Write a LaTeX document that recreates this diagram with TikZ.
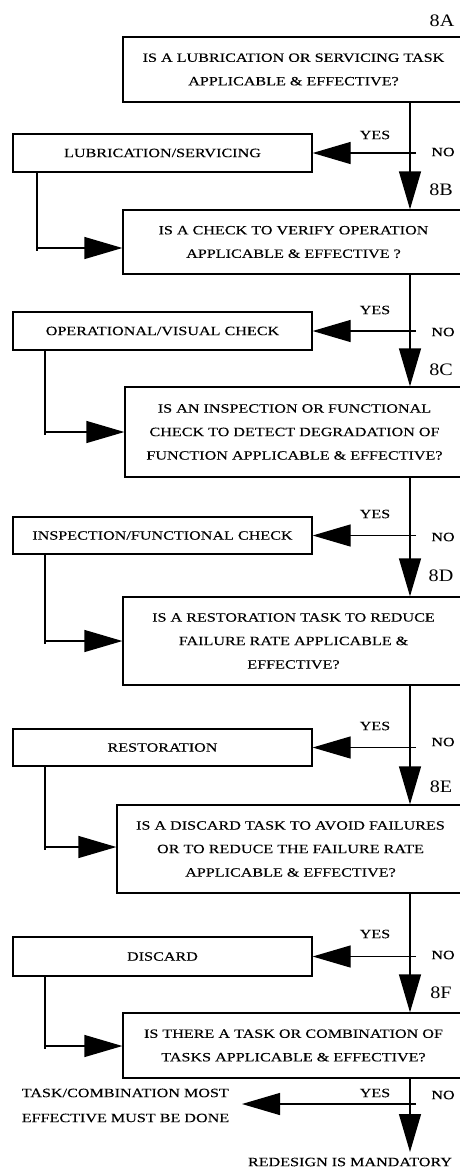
\documentclass[tikz,border=0pt]{standalone}
\usepackage{fontspec}
\setmainfont{Liberation Serif}[FakeStretch=1.27,FakeBold=0.2]
\newfontfamily\tagfont{Liberation Serif}[FakeStretch=1.15]
\usetikzlibrary{arrows.meta}
\begin{document}
\begin{tikzpicture}[x=1pt,y=-1pt,
  lw/.style={line width=1.3pt},
  qbox/.style={draw,lw,align=center,inner sep=0pt,font=\fontsize{12.7}{23.5}\selectfont},
  tbox/.style={draw,lw,align=center,inner sep=0pt,minimum width=299pt,minimum height=38pt,font=\fontsize{12.7}{14}\selectfont},
  lbl/.style={inner sep=0pt,font=\fontsize{12.7}{14}\selectfont},
  tag/.style={inner sep=0pt,font=\tagfont\fontsize{17.5}{20}\selectfont},
  arr/.style={lw,-{Triangle[length=38pt,width=22pt]}},
  con/.style={lw}
]
\useasboundingbox (0,0) rectangle (459,1168);
\coordinate (m) at (410,0);
\coordinate (s) at (416,0);

% question boxes
\node[qbox,minimum width=341pt,minimum height=65pt] (QA) at (293.5,69.5)
  {IS A LUBRICATION OR SERVICING TASK\\APPLICABLE \& EFFECTIVE?};
\node[qbox,minimum width=341pt,minimum height=64pt] (QB) at (293.5,242)
  {IS A CHECK TO VERIFY OPERATION\\APPLICABLE \& EFFECTIVE ?};
\node[qbox,minimum width=339pt,minimum height=90pt] (QC) at (294.5,432)
  {IS AN INSPECTION OR FUNCTIONAL\\CHECK TO DETECT DEGRADATION OF\\FUNCTION APPLICABLE \& EFFECTIVE?};
\node[qbox,minimum width=341pt,minimum height=88pt] (QD) at (293.5,641)
  {IS A RESTORATION TASK TO REDUCE\\FAILURE RATE APPLICABLE \&\\EFFECTIVE?};
\node[qbox,minimum width=347pt,minimum height=88pt] (QE) at (290.5,849)
  {IS A DISCARD TASK TO AVOID FAILURES\\OR TO REDUCE THE FAILURE RATE\\APPLICABLE \& EFFECTIVE?};
\node[qbox,minimum width=341pt,minimum height=65pt] (QF) at (293.5,1045.5)
  {IS THERE A TASK OR COMBINATION OF\\TASKS APPLICABLE \& EFFECTIVE?};

% task boxes
\node[tbox] (T1) at (162.5,153) {LUBRICATION/SERVICING};
\node[tbox] (T2) at (162.5,331) {OPERATIONAL/VISUAL CHECK};
\node[tbox,minimum height=37pt] (T3) at (162.5,535.5) {INSPECTION/FUNCTIONAL CHECK};
\node[tbox,minimum height=37pt] (T4) at (162.5,747.5) {RESTORATION};
\node[tbox,minimum height=39pt] (T5) at (162.5,956.5) {DISCARD};

% tags
\node[tag] (tA) at (442,21) {8A};
\node[tag] (tB) at (441,189.5) {8B};
\node[tag] (tC) at (441,370) {8C};
\node[tag] (tD) at (441,576) {8D};
\node[tag] (tE) at (441,787) {8E};
\node[tag] (tF) at (441,993) {8F};

% yes / no labels
\node[lbl] (y1) at (375,135) {YES};   \node[lbl] (n1) at (443,152) {NO};
\node[lbl] (y2) at (375,310) {YES};   \node[lbl] (n2) at (443,332) {NO};
\node[lbl] (y3) at (375,514) {YES};   \node[lbl] (n3) at (443,537) {NO};
\node[lbl] (y4) at (375,726) {YES};   \node[lbl] (n4) at (443,742) {NO};
\node[lbl] (y5) at (375,934) {YES};   \node[lbl] (n5) at (443,955) {NO};
\node[lbl] (y6) at (375,1093) {YES};  \node[lbl] (n6) at (443,1095) {NO};

% end texts
\node[lbl,align=left,font=\fontsize{12.7}{25}\selectfont] (done) at (125.5,1105.5)
  {TASK/COMBINATION MOST\\EFFECTIVE MUST BE DONE};
\node[lbl] (redesign) at (350,1162) {REDESIGN IS MANDATORY};

% main (NO) chain
\draw[arr] (QA.south -| m) -- (QB.north -| m);
\draw[arr] (QB.south -| m) -- (QC.north -| m);
\draw[arr] (QC.south -| m) -- (QD.north -| m);
\draw[arr] (QD.south -| m) -- (QE.north -| m);
\draw[arr] (QE.south -| m) -- (QF.north -| m);
\coordinate (endR) at (410,1152);
\draw[arr] (QF.south -| m) -- (endR);

% YES branches
\draw[arr] (T1.east -| s) -- (T1.east);
\draw[arr] (T2.east -| s) -- (T2.east);
\draw[arr] (T3.east -| s) -- (T3.east);
\draw[arr] (T4.east -| s) -- (T4.east);
\draw[arr] (T5.east -| s) -- (T5.east);
\coordinate (yesF) at (416,1104);
\coordinate (doneTip) at (242,1104);
\draw[arr] (yesF) -- (doneTip);

% returns from task boxes
\coordinate (j1) at (37,248);
\coordinate (j2) at (45,432);
\coordinate (j3) at (45,641);
\coordinate (j4) at (45,847);
\coordinate (j5) at (45,1046);
\draw[con] (T1.south -| j1) -- ([yshift=-3pt]j1);
\draw[arr] (j1) -- (QB.west |- j1);
\draw[con] (T2.south -| j2) -- ([yshift=-3pt]j2);
\draw[arr] (j2) -- (QC.west |- j2);
\draw[con] (T3.south -| j3) -- ([yshift=-3pt]j3);
\draw[arr] (j3) -- (QD.west |- j3);
\draw[con] (T4.south -| j4) -- ([yshift=-3pt]j4);
\draw[arr] (j4) -- (QE.west |- j4);
\draw[con] (T5.south -| j5) -- ([yshift=-3pt]j5);
\draw[arr] (j5) -- (QF.west |- j5);
\end{tikzpicture}
\end{document}
